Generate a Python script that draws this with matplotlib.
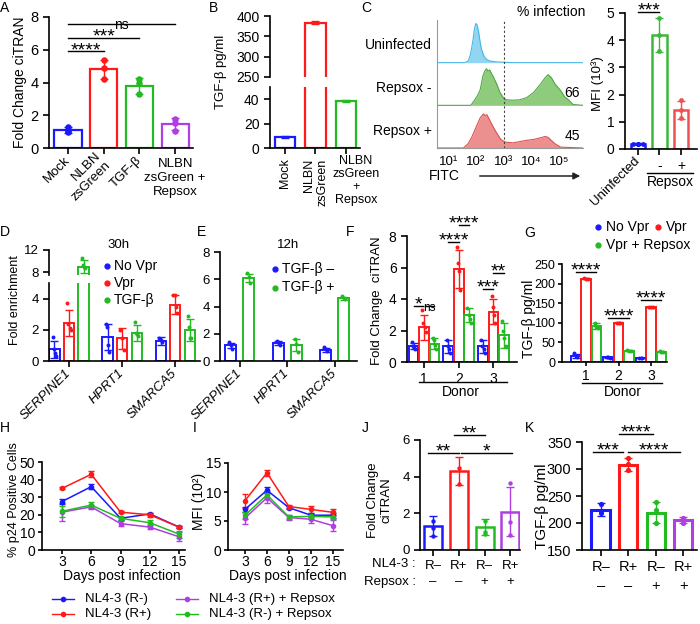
import numpy as np
import matplotlib.pyplot as plt
from matplotlib.lines import Line2D
from matplotlib.patches import FancyArrowPatch

plt.rcParams['font.family'] = ['Liberation Sans', 'DejaVu Sans']
plt.rcParams['font.size'] = 10
plt.rcParams['axes.linewidth'] = 1.2
plt.rcParams['xtick.major.width'] = 1.2
plt.rcParams['ytick.major.width'] = 1.2
plt.rcParams['xtick.major.size'] = 4
plt.rcParams['ytick.major.size'] = 4

W, H = 700, 624
BLUE = '#1a1aff'
RED = '#ff1a1a'
GREEN = '#22bb22'
PURPLE = '#b03ee0'

# ---- data ----
# A
a_labels = ['Mock', 'NLBN\nzsGreen', 'TGF-β', 'NLBN\nzsGreen +\nRepsox']
a_mean = [1.1, 4.8, 3.8, 1.45]
a_sd = [0.2, 0.6, 0.5, 0.38]
a_pts = [[1.3, 1.0, 1.05], [5.4, 4.9, 4.2], [4.2, 4.0, 3.3], [1.8, 1.55, 1.05]]

# B
b_labels = ['Mock', 'NLBN\nzsGreen', 'NLBN\nzsGreen\n+\nRepsox']
b_mean = [9, 384, 38.5]
b_sd = [0.8, 3, 0.8]

# C histograms (log10 FITC, relative height)
cy_x = [0.6, 1.6, 1.7, 1.75, 1.8, 1.85, 1.9, 1.95, 2.0, 2.05, 2.1, 2.15, 2.2, 2.3, 2.4, 2.5, 2.7, 3.0, 3.3, 5.86]
cy_h = [0, 0, 0.03, 0.08, 0.18, 0.35, 0.55, 0.8, 0.92, 0.88, 0.72, 0.5, 0.32, 0.14, 0.07, 0.04, 0.02, 0.01, 0, 0]
gr_x = [0.6, 1.82, 1.95, 2.05, 2.15, 2.26, 2.32, 2.38, 2.44, 2.5, 2.56, 2.62, 2.75, 2.87, 3.0, 3.1, 3.33, 3.58,
        3.83, 4.08, 4.33, 4.5, 4.6, 4.72, 4.85, 5.05, 5.2, 5.35, 5.5, 5.86]
gr_h = [0, 0, 0.12, 0.22, 0.35, 0.7, 0.8, 0.86, 0.8, 0.83, 0.75, 0.68, 0.5, 0.3, 0.17, 0.13, 0.12, 0.13,
        0.18, 0.3, 0.5, 0.65, 0.72, 0.65, 0.5, 0.35, 0.2, 0.12, 0.02, 0]
rd_x = [0.6, 1.55, 1.72, 1.85, 1.95, 2.05, 2.15, 2.27, 2.33, 2.4, 2.5, 2.62, 2.75, 2.9, 3.05, 3.33, 3.58,
        3.83, 4.08, 4.33, 4.5, 4.6, 4.68, 4.85, 5.05, 5.86]
rd_h = [0, 0, 0.1, 0.25, 0.4, 0.55, 0.7, 0.8, 0.76, 0.78, 0.65, 0.5, 0.35, 0.2, 0.14, 0.12, 0.15,
        0.18, 0.2, 0.24, 0.27, 0.25, 0.2, 0.1, 0.02, 0]
c_rows = ['Uninfected', 'Repsox -', 'Repsox +']
c_pct = ['', '66', '45']

# C bars
c_labels = ['Uninfected', '-', '+']
c_mean = [0.2, 4.2, 1.45]
c_sd = [0.03, 0.62, 0.33]
c_pts = [[0.2, 0.2, 0.2], [4.8, 4.2, 3.6], [1.8, 1.45, 1.15]]

# D
genes = ['SERPINE1', 'HPRT1', 'SMARCA5']
d_series = ['No Vpr', 'Vpr', 'TGF-β']
d_mean = [[0.75, 1.55, 1.3], [2.45, 1.45, 3.6], [9.0, 1.8, 2.0]]
d_sd = [[0.55, 0.85, 0.25], [0.85, 0.65, 0.6], [1.2, 0.5, 0.7]]
d_pts = [[[1.55, 0.75, 0.5, 0.35], [2.4, 2.2, 1.0, 0.6], [1.5, 1.35, 1.2]],
         [[3.75, 2.4, 2.1, 2.0], [2.0, 1.5, 0.7], [4.25, 4.2, 3.45, 3.05]],
         [[10.5, 9.3, 9.0, 8.8], [2.5, 1.8, 1.7, 1.6], [2.9, 2.2, 1.5, 1.45]]]

# E
e_series = ['TGF-β –', 'TGF-β +']
e_mean = [[1.15, 1.35, 0.8], [6.1, 1.15, 4.6]]
e_sd = [[0.2, 0.15, 0.15], [0.3, 0.45, 0.1]]
e_pts = [[[1.4, 1.15, 0.9], [1.45, 1.4, 1.2], [1.0, 0.85, 0.7]],
         [[6.45, 6.2, 5.7], [1.6, 1.25, 0.65], [4.75, 4.6, 4.55]]]

# F
donors = ['1', '2', '3']
fg_series = ['No Vpr', 'Vpr', 'Vpr + Repsox']
f_mean = [[1.0, 1.0, 1.0], [2.2, 5.9, 3.2], [1.15, 3.0, 1.7]]
f_sd = [[0.2, 0.4, 0.4], [0.8, 1.2, 0.8], [0.35, 0.45, 0.8]]
f_pts = [[[1.25, 1.0, 0.9, 0.8], [1.4, 1.0, 0.8, 0.6], [1.4, 1.0, 0.8, 0.6]],
         [[3.3, 2.5, 2.2, 1.9], [7.3, 6.3, 5.8, 4.6], [4.2, 3.5, 3.0, 2.5]],
         [[1.5, 1.4, 1.1, 0.8], [3.4, 3.0, 2.7, 2.5], [2.6, 2.0, 1.5, 1.0]]]

# G
g_mean = [[15, 12, 10], [213, 100, 140], [92, 29, 26]]
g_sd = [[6, 1, 1], [2, 1.5, 1.5], [8, 1.5, 1.5]]
g_pts = [[[24, 15, 12], [12, 12, 11], [10, 10, 10]],
         [[215, 213, 212], [100, 100, 99], [140, 140, 140]],
         [[100, 90, 88], [30, 29, 28], [27, 26, 25]]]

# H, I
days = [3, 6, 9, 12, 15]
hi_series = ['NL4-3 (R-)', 'NL4-3 (R+)', 'NL4-3 (R+) + Repsox', 'NL4-3 (R-) + Repsox']
h_mean = [[27.5, 36, 18, 20.5, 13], [35, 43, 21.5, 20, 13], [21.5, 24.5, 15, 13, 7.5], [22, 25.5, 18, 15.5, 9]]
h_sd = [[1.5, 1.5, 1, 0.7, 0.6], [0.6, 1.7, 0.5, 1, 0.6], [5, 1, 1.2, 1, 2.5], [3, 1.5, 1, 1.5, 2]]
i_mean = [[7.0, 10.3, 7.3, 6.0, 6.0], [8.5, 13.3, 7.5, 7.0, 6.5], [5.5, 9.0, 5.6, 5.3, 4.2], [6.0, 9.5, 5.7, 5.8, 5.7]]
i_sd = [[0.5, 0.5, 0.3, 0.3, 0.4], [1.2, 0.5, 0.2, 0.6, 0.5], [1.0, 0.9, 0.4, 0.6, 1.0], [0.6, 0.6, 0.3, 0.4, 0.4]]

# J, K
jk_labels = ['R–\n–', 'R+\n–', 'R–\n+', 'R+\n+']
j_mean = [1.3, 4.3, 1.25, 2.1]
j_sd = [0.55, 0.78, 0.42, 1.33]
j_pts = [[1.6, 1.2, 0.75], [4.45, 3.6], [1.6, 1.0, 0.85], [3.65, 1.55, 0.8]]
k_mean = [225, 308, 219, 206]
k_sd = [12, 12, 19, 6]
k_pts = [[235, 222, 218], [320, 310, 298], [238, 225, 200], [210, 205, 200]]

# ---- helpers ----
fig = plt.figure(figsize=(7, 6.24), dpi=100)


def axes_px(x0, y0, x1, y1):
    ax = fig.add_axes([x0 / W, 1 - y1 / H, (x1 - x0) / W, (y1 - y0) / H])
    ax.spines[['top', 'right']].set_visible(False)
    return ax


def text_px(x, y, s, **kw):
    fig.text(x / W, 1 - y / H, s, **kw)


def ylab_px(x, y, s, fs):
    text_px(x, y, s, rotation=90, ha='center', va='center', fontsize=fs, multialignment='center')


def line_px(x0, x1, y, **kw):
    fig.add_artist(Line2D([x0 / W, x1 / W], [1 - y / H] * 2, transform=fig.transFigure, **kw))


def dot_px(x, y, color, ms=3.5):
    fig.add_artist(Line2D([x / W], [1 - y / H], marker='o', ms=ms, color=color, ls='',
                          transform=fig.transFigure))


def bars(ax, xs, means, sds, pts, colors, width, lw=1.6, ms=14, jit=0.0):
    for x, m, s, p, c in zip(xs, means, sds, pts, colors):
        ax.bar(x, m, width, facecolor='none', edgecolor=c, linewidth=lw, zorder=2)
        ax.errorbar(x, m, yerr=s, color=c, capsize=3, elinewidth=1, capthick=1, zorder=3)
        xx = x + np.linspace(-jit, jit, len(p)) if jit else np.full(len(p), x)
        ax.scatter(xx, p, s=ms, color=c, zorder=4, linewidths=0)


def sig(ax, x1, x2, y, txt, fs=14):
    ax.plot([x1, x2], [y, y], color='k', lw=1, clip_on=False)
    ax.annotate(txt, ((x1 + x2) / 2, y), xytext=(0, -5.5), textcoords='offset points',
                ha='center', va='bottom', fontsize=fs, annotation_clip=False)


for lt, (lx, ly) in zip('ABCDEFGHIJK', [(5, 8), (214, 8), (366, 8), (5, 232), (202, 232), (350, 232),
                                       (530, 233), (5, 428), (195, 428), (365, 428), (530, 428)]):
    text_px(lx, ly, lt, fontsize=10, ha='center', va='center')

# ---- A ----
ax = axes_px(49, 17, 193, 148)
xa = np.arange(len(a_mean))
bars(ax, xa, a_mean, a_sd, a_pts, [BLUE, RED, GREEN, PURPLE], 0.76, ms=22)
ax.set_xlim(-0.53, 3.5)
ax.set_ylim(0, 8)
ax.set_yticks([0, 2, 4, 6, 8])
ax.tick_params(labelsize=10.5)
ax.set_xticks(xa, a_labels)
for k, lbl in enumerate(ax.get_xticklabels()):
    if k < 3:
        lbl.set(rotation=45, ha='right', va='center', rotation_mode='anchor', multialignment='right')
    lbl.set_fontsize(9.5)
ylab_px(20, 82, 'Fold Change ciTRAN', 10)
sig(ax, 0, 1, 5.9, '****')
sig(ax, 0, 2, 6.7, '***')
sig(ax, 0, 3, 7.55, 'ns', fs=10)

# ---- B ----
xb = np.arange(len(b_mean))
bcol = [BLUE, RED, GREEN]
axt = axes_px(270, 16, 360, 77)
axb = axes_px(270, 87, 360, 148)
for a in (axt, axb):
    bars(a, xb, b_mean, b_sd, [[]] * 3, bcol, 0.66)
    a.set_xlim(-0.49, 2.46)
    a.tick_params(labelsize=10)
axt.set_ylim(250, 400)
axt.set_yticks([250, 300, 350, 400])
axt.spines['bottom'].set_visible(False)
axt.set_xticks([])
axb.set_ylim(0, 50)
axb.set_yticks([0, 20, 40])
axb.set_xticks(xb, b_labels[:2] + [''])
for lbl in axb.get_xticklabels()[:2]:
    lbl.set(rotation=90, multialignment='right', fontsize=9)
text_px(356, 155, b_labels[2], ha='center', va='top', fontsize=9, linespacing=1.1)
ylab_px(221, 72, 'TGF-β pg/ml', 9.5)

# ---- C histograms ----
ax = axes_px(437, 20, 583, 148)
for sp in ('left', 'bottom'):
    ax.spines[sp].set_color('#999999')
    ax.spines[sp].set_linewidth(0.8)
for off, hx, hh, fc, ec in [(2, cy_x, cy_h, '#92d5f2', '#45b8e8'),
                            (1, gr_x, gr_h, '#8fcb7c', '#4fa744'),
                            (0, rd_x, rd_h, '#ec8f8f', '#de5050')]:
    ax.fill_between(hx, off, off + np.array(hh), color=fc, lw=0)
    ax.plot(hx, off + np.array(hh), color=ec, lw=0.8)
ax.axvline(3, color='#444444', lw=0.8, ls=(0, (2, 2)))
ax.set_xlim(0.6, 5.86)
ax.set_ylim(0, 3)
ax.set_yticks([])
ax.set_xticks([1, 2, 3, 4, 5], ['10¹', '10²', '10³', '10⁴', '10⁵'])
ax.tick_params(axis='x', length=0, labelsize=9.5, pad=6)
for k, (row, pct) in enumerate(zip(c_rows, c_pct)):
    yb = 62 + 43 * k
    text_px(432, yb - 17, row, ha='right', va='center', fontsize=10)
    if pct:
        text_px(572, yb - 12, pct, ha='center', va='center', fontsize=10)
text_px(551, 12, '% infection', ha='center', va='center', fontsize=10)
text_px(444, 176, 'FITC', ha='center', va='center', fontsize=10)
fig.add_artist(FancyArrowPatch((477 / W, 1 - 176 / H), (583 / W, 1 - 176 / H), transform=fig.transFigure,
                               arrowstyle='-|>', mutation_scale=10, lw=1.1, color='#222222'))

# ---- C bars ----
ax = axes_px(625, 13, 697, 149)
xc = np.arange(len(c_mean))
bars(ax, xc, c_mean, c_sd, c_pts, [BLUE, '#3cb83c', '#f05050'], 0.67, lw=1.8, ms=12)
ax.scatter([-0.22, 0.22], [0.2, 0.2], s=12, color=BLUE, zorder=4, linewidths=0)
ax.set_xlim(-0.6, 2.74)
ax.set_ylim(0, 5)
ax.set_yticks([0, 1, 2, 3, 4, 5])
ax.tick_params(labelsize=10)
ax.set_xticks(xc, c_labels)
lbl = ax.get_xticklabels()[0]
lbl.set(rotation=45, ha='right', va='center', rotation_mode='anchor', fontsize=9.5)
ylab_px(598, 84, 'MFI (10³)', 9.5)
sig(ax, 0, 1, 5.05, '***')
line_px(647, 693, 173, color='k', lw=1)
text_px(670, 182, 'Repsox', ha='center', va='center', fontsize=10)

# ---- D ----
dcol = [BLUE, RED, GREEN]
xg = np.arange(len(genes))
dt = axes_px(49, 250, 200, 275)
db = axes_px(49, 283, 200, 361)
for a in (dt, db):
    for s, off in enumerate([-0.274, 0, 0.274]):
        bars(a, xg + off, d_mean[s], d_sd[s], d_pts[s], [dcol[s]] * 3, 0.19, lw=1.4, ms=8, jit=0.03)
    a.set_xlim(-0.377, 2.47)
    a.tick_params(labelsize=9.5)
dt.set_ylim(7.5, 12)
dt.set_yticks([8, 12])
dt.spines['bottom'].set_visible(False)
dt.set_xticks([])
db.set_ylim(0, 5)
db.set_yticks([0, 2, 4])
db.set_xticks(xg, genes)
for lbl in db.get_xticklabels():
    lbl.set(rotation=45, ha='right', va='center', rotation_mode='anchor', style='italic', fontsize=9.5)
ylab_px(15, 300, 'Fold enrichment', 9)
text_px(119, 245, '30h', ha='center', va='center', fontsize=9.5)
for k, (lab, c) in enumerate(zip(d_series, dcol)):
    dot_px(107, 266 + 17 * k, c)
    text_px(114, 266 + 17 * k, lab, ha='left', va='center', fontsize=10)

# ---- E ----
ecol = [BLUE, GREEN]
ax = axes_px(220, 252, 357, 361)
for s, off in enumerate([-0.19, 0.19]):
    bars(ax, xg + off, e_mean[s], e_sd[s], e_pts[s], [ecol[s]] * 3, 0.23, lw=1.4, ms=8, jit=0.03)
ax.set_xlim(-0.42, 2.47)
ax.set_ylim(0, 8)
ax.set_yticks([0, 2, 4, 6, 8])
ax.tick_params(labelsize=9.5)
ax.set_xticks(xg, genes)
for lbl in ax.get_xticklabels():
    lbl.set(rotation=45, ha='right', va='center', rotation_mode='anchor', style='italic', fontsize=9.5)
text_px(288, 245, '12h', ha='center', va='center', fontsize=9.5)
for k, (lab, c) in enumerate(zip(e_series, ecol)):
    dot_px(275, 269 + 18.5 * k, c)
    text_px(282, 269 + 18.5 * k, lab, ha='left', va='center', fontsize=10)

# ---- F ----
fcol = [BLUE, RED, GREEN]
foff = [-0.30, 0, 0.30]
xd = np.arange(len(donors))
ax = axes_px(407, 236, 517, 362)
for s in range(3):
    bars(ax, xd + foff[s], f_mean[s], f_sd[s], f_pts[s], [fcol[s]] * 3, 0.28, lw=1.4, ms=8, jit=0.05)
ax.set_xlim(-0.49, 2.68)
ax.set_ylim(0, 8)
ax.set_yticks([0, 2, 4, 6, 8])
ax.tick_params(labelsize=10)
ax.set_xticks(xd, donors)
ylab_px(377, 301, 'Fold Change  ciTRAN', 9.5)
sig(ax, foff[0], foff[1] - 0.03, 3.55, '*')
sig(ax, foff[1] + 0.03, foff[2], 3.55, 'ns', fs=8.5)
sig(ax, 1 + foff[0], 1 + foff[1], 7.6, '****')
sig(ax, 1 + foff[1], 1 + foff[2], 8.7, '****')
sig(ax, 2 + foff[0], 2 + foff[1], 4.63, '***')
sig(ax, 2 + foff[1], 2 + foff[2], 5.65, '**')
line_px(419, 507, 382, color='k', lw=1)
text_px(461, 392, 'Donor', ha='center', va='center', fontsize=10)

# ---- G ----
goff = [-0.32, 0, 0.32]
ax = axes_px(562, 264, 667, 362)
for s in range(3):
    bars(ax, xd + goff[s], g_mean[s], g_sd[s], g_pts[s], [fcol[s]] * 3, 0.3, lw=1.4, ms=8, jit=0.05)
ax.set_xlim(-0.74, 2.49)
ax.set_ylim(0, 250)
ax.set_yticks([0, 50, 100, 150, 200, 250])
ax.tick_params(labelsize=9, length=3, pad=2)
ax.set_xticks(xd, donors)
ax.tick_params(axis='x', labelsize=10)
ylab_px(529, 319, 'TGF-β pg/ml', 10)
sig(ax, goff[0], goff[2], 230, '****')
sig(ax, 1 + goff[0], 1 + goff[2], 112, '****')
sig(ax, 2 + goff[0], 2 + goff[2], 158, '****')
line_px(582, 662, 383, color='k', lw=1)
text_px(623, 392, 'Donor', ha='center', va='center', fontsize=10)
for (lx, ly), lab, c in zip([(598, 227), (658, 227), (598, 245)], fg_series, fcol):
    dot_px(lx, ly, c)
    text_px(lx + 8, ly, lab, ha='left', va='center', fontsize=10)

# ---- H, I ----
hcol = [BLUE, RED, PURPLE, GREEN]
axh = axes_px(42, 462, 185, 550)
axi = axes_px(228, 463, 343, 550)
for a, mean, sd in [(axh, h_mean, h_sd), (axi, i_mean, i_sd)]:
    for s in range(4):
        a.errorbar(days, mean[s], yerr=sd[s], color=hcol[s], marker='o', ms=3, lw=1.1,
                   capsize=2, elinewidth=1)
    a.set_xticks(days)
    a.tick_params(labelsize=10, length=3, pad=2)
    a.tick_params(axis='x', pad=0.5)
axh.set_xlim(0.96, 15.6)
axh.set_ylim(0, 50)
axh.set_yticks([0, 10, 20, 30, 40, 50])
axi.set_xlim(0.68, 16.4)
axi.set_ylim(0, 15)
axi.set_yticks([0, 5, 10, 15])
ylab_px(14, 500, '% p24 Positive Cells', 9)
ylab_px(199, 501, 'MFI (10²)', 10)
text_px(122, 576, 'Days post infection', ha='center', va='center', fontsize=10)
text_px(288, 576, 'Days post infection', ha='center', va='center', fontsize=10)
for k, (lab, c) in enumerate(zip(hi_series, hcol)):
    x0 = 52 if k < 2 else 176
    yy = 599 + 15 * (k % 2)
    line_px(x0, x0 + 22, yy, color=c, lw=1)
    dot_px(x0 + 11, yy, c, ms=3)
    text_px(x0 + 33, yy, lab, ha='left', va='center', fontsize=9.5)

# ---- J ----
jcol = [BLUE, RED, GREEN, PURPLE]
xj = np.arange(4)
ax = axes_px(420, 440, 520, 550)
bars(ax, xj, j_mean, j_sd, j_pts, jcol, 0.7, lw=1.8, ms=10)
ax.set_xlim(-0.5, 3.37)
ax.set_ylim(0, 6)
ax.set_yticks([0, 2, 4, 6])
ax.tick_params(labelsize=9.5)
ax.set_xticks(xj, jk_labels, linespacing=1.45)
ylab_px(380, 500, 'Fold Change\nciTRAN', 9.5)
sig(ax, -0.2, 1.0, 5.29, '**')
sig(ax, 0.8, 2.0, 6.27, '**')
sig(ax, 1.1, 3.05, 5.29, '*')
text_px(416, 564, 'NL4-3 :', ha='right', va='center', fontsize=9.5)
text_px(416, 582, 'Repsox :', ha='right', va='center', fontsize=9.5)

# ---- K ----
ax = axes_px(582, 442, 697, 550)
bars(ax, xj, k_mean, k_sd, k_pts, jcol, 0.67, lw=2.2, ms=14)
ax.set_xlim(-0.68, 3.5)
ax.set_ylim(150, 350)
ax.set_yticks([150, 200, 250, 300, 350])
ax.tick_params(labelsize=10.5)
ax.set_xticks(xj, jk_labels, linespacing=1.45)
ylab_px(542, 506, 'TGF-β pg/ml', 11)
sig(ax, -0.28, 0.8, 331, '***')
sig(ax, 0.66, 1.9, 365, '****')
sig(ax, 0.99, 2.9, 331, '****')

fig.savefig('out.png', dpi=100)
